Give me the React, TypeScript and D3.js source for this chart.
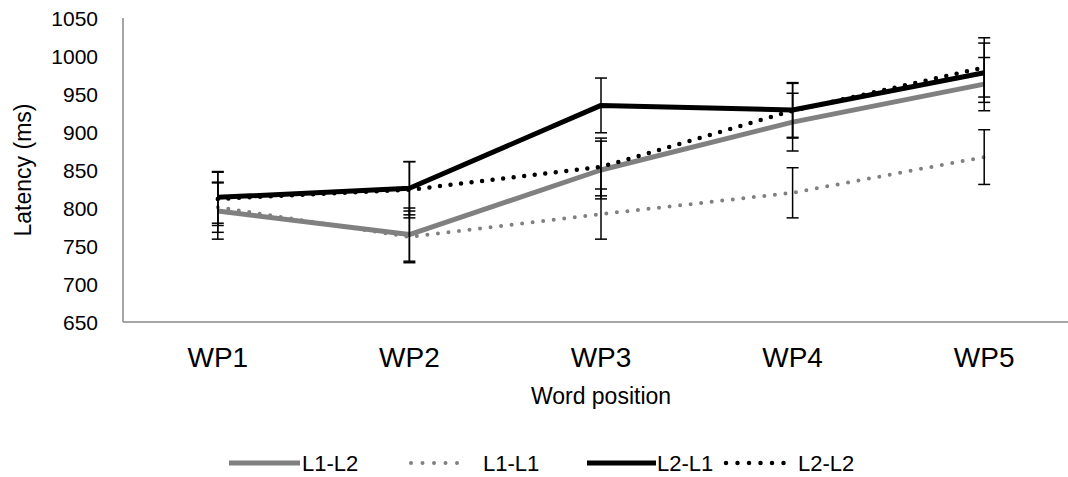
import React from "react";
import * as d3 from "d3";

const categories = ["WP1", "WP2", "WP3", "WP4", "WP5"];
const yTicks = [650, 700, 750, 800, 850, 900, 950, 1000, 1050];

const seriesNames = ["L1-L2", "L1-L1", "L2-L1", "L2-L2"];
const l1l2 = [796, 765, 850, 913, 963];
const l1l2Err = [37, 35, 38, 38, 35];
const l1l1 = [801, 762, 792, 820, 867];
const l1l1Err = [33, 34, 33, 33, 36];
const l2l1 = [814, 826, 935, 929, 978];
const l2l1Err = [34, 35, 36, 36, 39];
const l2l2 = [812, 824, 854, 928, 985];
const l2l2Err = [35, 37, 38, 36, 39];

const GRAY = "#808080";
const FONT = "'Liberation Sans', Arial, sans-serif";

const styles = [
  { color: GRAY, width: 5, dash: null as string | null },
  { color: GRAY, width: 4, dash: "0 10.6" },
  { color: "#000", width: 5, dash: null as string | null },
  { color: "#000", width: 4.5, dash: "0 10.6" },
];

const values = [l1l2, l1l1, l2l1, l2l2];
const errors = [l1l2Err, l1l1Err, l2l1Err, l2l2Err];

export default function App() {
  const W = 1068, H = 477;
  const left = 122, right = 1080, top = 18, bottom = 322;
  const x = d3.scalePoint<string>().domain(categories).range([left, right]).padding(0.5);
  const y = d3.scaleLinear().domain([650, 1050]).range([bottom, top]);
  const line = d3
    .line<number>()
    .x((_, i) => x(categories[i]) as number)
    .y((d) => y(d));

  const legendItems = [
    { x1: 229, x2: 300, tx: 302 },
    { x1: 411, x2: 468, tx: 483 },
    { x1: 587, x2: 656, tx: 657 },
    { x1: 726, x2: 784, tx: 798 },
  ];
  const legendY = 463;

  return (
    <svg
      width={W}
      height={H}
      style={{ position: "absolute", left: 0, top: 0, background: "#fff" }}
      fontFamily={FONT}
    >
      {/* axes */}
      <line x1={left + 1} x2={left + 1} y1={top} y2={bottom} stroke="#898989" strokeWidth={1.5} />
      <line x1={left + 1} x2={right} y1={bottom} y2={bottom} stroke="#898989" strokeWidth={1.5} />

      {yTicks.map((t) => (
        <text key={t} x={98} y={y(t)} textAnchor="end" dominantBaseline="central" fontSize={21} fill="#000">
          {t}
        </text>
      ))}

      {categories.map((c) => (
        <text key={c} x={x(c)} y={367} textAnchor="middle" fontSize={28} fill="#000">
          {c}
        </text>
      ))}

      <text x={601} y={404} textAnchor="middle" fontSize={23} fill="#000">
        Word position
      </text>
      <text
        transform={`translate(31,170) rotate(-90)`}
        textAnchor="middle"
        fontSize={23}
        fill="#000"
      >
        Latency (ms)
      </text>

      {/* lines */}
      {values.map((v, si) => (
        <path
          key={si}
          d={line(v) || ""}
          fill="none"
          stroke={styles[si].color}
          strokeWidth={styles[si].width}
          strokeDasharray={styles[si].dash || undefined}
          strokeLinecap={styles[si].dash ? "round" : "butt"}
          strokeLinejoin="round"
        />
      ))}

      {/* error bars */}
      {values.map((v, si) =>
        v.map((d, i) => {
          const cx = x(categories[i]) as number;
          const e = errors[si][i];
          const y1 = y(d + e), y2 = y(d - e);
          return (
            <g key={`${si}-${i}`} stroke="#000" strokeWidth={1.5}>
              <line x1={cx} x2={cx} y1={y1} y2={y2} />
              <line x1={cx - 6} x2={cx + 6} y1={y1} y2={y1} />
              <line x1={cx - 6} x2={cx + 6} y1={y2} y2={y2} />
            </g>
          );
        })
      )}

      {/* legend */}
      {legendItems.map((li, si) => (
        <g key={si}>
          <line
            x1={li.x1}
            x2={li.x2}
            y1={legendY}
            y2={legendY}
            stroke={styles[si].color}
            strokeWidth={styles[si].width}
            strokeDasharray={styles[si].dash ? "0 11.5" : undefined}
            strokeLinecap={styles[si].dash ? "round" : "butt"}
          />
          <text x={li.tx} y={legendY} dominantBaseline="central" fontSize={22} fill="#000">
            {seriesNames[si]}
          </text>
        </g>
      ))}
    </svg>
  );
}
